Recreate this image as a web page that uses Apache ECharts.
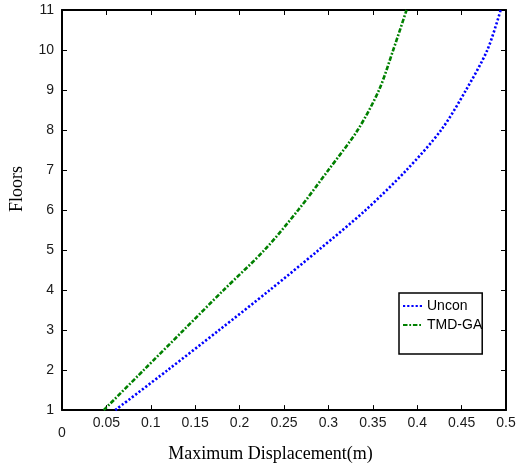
<!DOCTYPE html>
<html>
<head>
<meta charset="utf-8">
<script src="https://cdn.jsdelivr.net/npm/echarts@6/dist/echarts.min.js"></script>
<style>html,body{margin:0;padding:0;background:#fff;}#c{width:520px;height:468px;}</style>
</head>
<body>
<div id="c"></div>
<script>
var floors = [1, 2, 3, 4, 5, 6, 7, 8, 9, 10, 11];
var unconDisp = [0.060, 0.119, 0.177, 0.234, 0.289, 0.342, 0.388, 0.427, 0.455, 0.479, 0.494];
var tmdDisp   = [0.047, 0.092, 0.137, 0.182, 0.228, 0.266, 0.300, 0.333, 0.357, 0.373, 0.388];
var xTicks = { min: 0, max: 0.5, step: 0.05 };
var yTicks = { min: 1, max: 11, step: 1 };

function pairs(xs) { return floors.map(function (f, i) { return [xs[i], f]; }); }

var chart = echarts.init(document.getElementById('c'), null, { renderer: 'canvas' });
var axisLine = { show: true, onZero: false, lineStyle: { color: '#000', width: 2 } };
var tick = { show: true, inside: true, length: 5, lineStyle: { color: '#000', width: 1 } };
var labelFont = { color: '#1a1a1a', fontSize: 14, fontFamily: 'Liberation Sans' };

chart.setOption({
  animation: false,
  backgroundColor: '#fff',
  grid: { left: 61, right: 14, top: 10, bottom: 55, containLabel: false },
  legend: {
    data: [
      { name: 'Uncon', itemStyle: { opacity: 0 } },
      { name: 'TMD-GA', itemStyle: { opacity: 0 } }
    ],
    orient: 'vertical',
    left: 399, top: 293,
    backgroundColor: '#fff',
    borderColor: '#000', borderWidth: 1.5,
    padding: [6, 0, 22, 3],
    itemWidth: 19, itemHeight: 14, itemGap: 5,
    textStyle: { color: '#000', fontSize: 14, fontFamily: 'Liberation Sans' }
  },
  xAxis: [{
    type: 'value', position: 'bottom',
    min: xTicks.min, max: xTicks.max, interval: xTicks.step,
    axisLine: axisLine, axisTick: tick, splitLine: { show: false },
    axisLabel: Object.assign({
      margin: 6, showMaxLabel: true, showMinLabel: true,
      formatter: function (v) {
        var s = String(Math.round(v * 100) / 100);
        return v === 0 ? '{z|0}' : s;
      },
      rich: { z: { padding: [10, 0, 0, 0], color: '#1a1a1a', fontSize: 14, fontFamily: 'Liberation Sans' } }
    }, labelFont),
    name: 'Maximum Displacement(m)', nameLocation: 'middle', nameGap: 32,
    nameTextStyle: { color: '#000', fontSize: 18, fontFamily: 'Liberation Serif', padding: [0, 27, 0, 0] }
  }, {
    type: 'value', position: 'top',
    min: xTicks.min, max: xTicks.max, interval: xTicks.step,
    axisLine: axisLine, axisTick: tick, axisLabel: { show: false }, splitLine: { show: false }
  }],
  yAxis: [{
    type: 'value', position: 'left',
    min: yTicks.min, max: yTicks.max, interval: yTicks.step,
    axisLine: axisLine, axisTick: tick, splitLine: { show: false },
    axisLabel: Object.assign({ margin: 8 }, labelFont),
    name: 'Floors', nameLocation: 'middle', nameGap: 36,
    nameTextStyle: { color: '#000', fontSize: 18, fontFamily: 'Liberation Serif', padding: [0, 0, 0, 42] }
  }, {
    type: 'value', position: 'right',
    min: yTicks.min, max: yTicks.max, interval: yTicks.step,
    axisLine: axisLine, axisTick: tick, axisLabel: { show: false }, splitLine: { show: false }
  }],
  series: [{
    name: 'Uncon', type: 'line', xAxisIndex: 0, yAxisIndex: 0,
    data: pairs(unconDisp), smooth: 0.3, symbol: 'none',
    itemStyle: { color: '#0000ff' },
    lineStyle: { color: '#0000ff', width: 2.6, type: [2.2, 2] }
  }, {
    name: 'TMD-GA', type: 'line', xAxisIndex: 0, yAxisIndex: 0,
    data: pairs(tmdDisp), smooth: 0.3, symbol: 'none',
    itemStyle: { color: '#008000' },
    lineStyle: { color: '#008000', width: 2.6, type: [4.5, 1.8, 1.8, 1.8] }
  }]
});
</script>
</body>
</html>
